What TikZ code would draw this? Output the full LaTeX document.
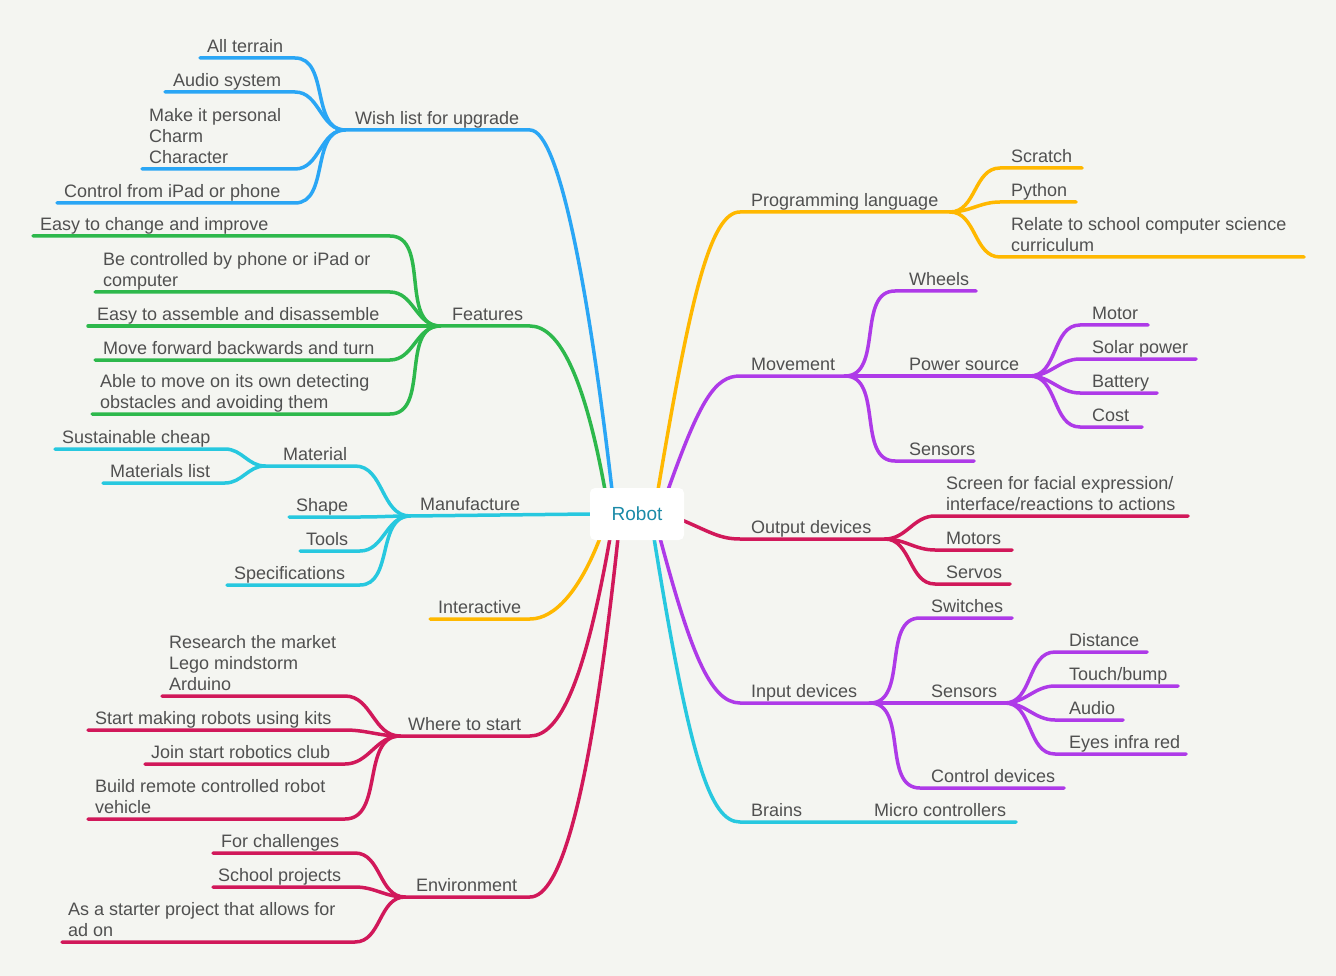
\documentclass[tikz,border=0pt]{standalone}
\usepackage{fontspec}
\setmainfont{Liberation Sans}
\definecolor{bg}{HTML}{F4F5F1}
\definecolor{cOr}{HTML}{FFB800}
\definecolor{cPu}{HTML}{AE3AE8}
\definecolor{cCr}{HTML}{D1185A}
\definecolor{cCy}{HTML}{27C8DF}
\definecolor{cBl}{HTML}{2AA6F5}
\definecolor{cGr}{HTML}{2DB84C}
\definecolor{tx}{HTML}{505050}
\definecolor{teal}{HTML}{1B8BA8}
\begin{document}
\begin{tikzpicture}[x=1pt,y=-1pt,
  t/.style={anchor=south west,inner sep=0pt,text depth=0pt,align=left,text=tx,font=\fontsize{18}{21}\selectfont},
  ln/.style={line width=3.5pt,line cap=round},
  or/.style={ln,draw=cOr}, pu/.style={ln,draw=cPu}, cr/.style={ln,draw=cCr},
  cy/.style={ln,draw=cCy}, bl/.style={ln,draw=cBl}, gr/.style={ln,draw=cGr},
  R/.style={out=0,in=180}, L/.style={out=180,in=0}]
\fill[bg] (0,0) rectangle (1336,976);
\useasboundingbox (0,0) rectangle (1336,976);
% root anchor points
\coordinate (rTL) at (612,490); \coordinate (rTL2) at (605,490);
\coordinate (rTR) at (658,490); \coordinate (rTR2) at (668,490);
\coordinate (rR) at (682,520); \coordinate (rL) at (590,514);
\coordinate (rBL) at (600,538); \coordinate (rBL2) at (610,538); \coordinate (rBL3) at (618,538);
\coordinate (rBR) at (660,538); \coordinate (rBR2) at (654,538);

% ===== Programming language
\coordinate (pl0) at (740,212); \coordinate (pl1) at (950,212);
\draw[or] (rTR) .. controls (690,300) and (710,212) .. (pl0) -- (pl1);
\node[t] (pl) at (751,207) {Programming language};
\draw[or] (pl1) to[R] (1000,168) -- (1082,168);
\node[t] (sc) at (1011,163) {Scratch};
\draw[or] (pl1) to[R] (1000,202) -- (1076,202);
\node[t] (py) at (1011,197) {Python};
\draw[or] (pl1) to[R] (1000,257) -- (1304,257);
\node[t] (rel) at (1011,252) {Relate to school computer science\\curriculum};

% ===== Movement
\coordinate (mv0) at (740,376); \coordinate (mv1) at (845,376);
\draw[pu] (rTR2) .. controls (700,400) and (715,376) .. (mv0) -- (mv1);
\node[t] (mv) at (751,371) {Movement};
\draw[pu] (mv1) to[R] (895,291) -- (976,291);
\node[t] (wh) at (909,286) {Wheels};
\coordinate (ps1) at (1030,376);
\draw[pu] (mv1) -- (895,376) -- (ps1);
\node[t] (ps) at (909,371) {Power source};
\draw[pu] (mv1) to[R] (895,461) -- (974,461);
\node[t] (se) at (909,456) {Sensors};
\draw[pu] (ps1) to[R] (1080,325) -- (1148,325);
\node[t] (mo) at (1092,320) {Motor};
\draw[pu] (ps1) to[R] (1080,359) -- (1196,359);
\node[t] (so) at (1092,354) {Solar power};
\draw[pu] (ps1) to[R] (1080,393) -- (1157,393);
\node[t] (ba) at (1092,388) {Battery};
\draw[pu] (ps1) to[R] (1080,427) -- (1142,427);
\node[t] (co) at (1092,422) {Cost};

% ===== Output devices
\coordinate (od0) at (740,539); \coordinate (od1) at (885,539);
\draw[cr] (rR) .. controls (710,532) and (720,539) .. (od0) -- (od1);
\node[t] (od) at (751,534) {Output devices};
\draw[cr] (od1) to[R] (935,516) -- (1188,516);
\node[t] (scr) at (946,511) {Screen for facial expression/\\interface/reactions to actions};
\draw[cr] (od1) to[R] (935,550) -- (1012,550);
\node[t] (mos) at (946,545) {Motors};
\draw[cr] (od1) to[R] (935,584) -- (1010,584);
\node[t] (sv) at (946,579) {Servos};

% ===== Input devices
\coordinate (id0) at (740,703); \coordinate (id1) at (870,703);
\draw[pu] (rBR) .. controls (690,650) and (710,703) .. (id0) -- (id1);
\node[t] (id) at (751,698) {Input devices};
\draw[pu] (id1) to[R] (920,618) -- (1012,618);
\node[t] (sw) at (931,613) {Switches};
\coordinate (is1) at (1005,703);
\draw[pu] (id1) -- (is1);
\node[t] (is) at (931,698) {Sensors};
\draw[pu] (id1) to[R] (920,788) -- (1064,788);
\node[t] (cd) at (931,783) {Control devices};
\draw[pu] (is1) to[R] (1055,652) -- (1147,652);
\node[t] (di) at (1069,647) {Distance};
\draw[pu] (is1) to[R] (1055,686) -- (1178,686);
\node[t] (tb) at (1069,681) {Touch/bump};
\draw[pu] (is1) to[R] (1055,720) -- (1123,720);
\node[t] (au) at (1069,715) {Audio};
\draw[pu] (is1) to[R] (1055,754) -- (1186,754);
\node[t] (ey) at (1069,749) {Eyes infra red};

% ===== Brains
\coordinate (br0) at (740,822); \coordinate (br1) at (810,822);
\draw[cy] (rBR2) .. controls (690,760) and (710,822) .. (br0) -- (br1) -- (1016,822);
\node[t] (br) at (751,817) {Brains};
\node[t] (mc) at (874,817) {Micro controllers};

% ===== Wish list
\coordinate (wl0) at (530,130); \coordinate (wl1) at (345,130);
\draw[bl] (rTL) .. controls (590,300) and (560,130) .. (wl0) -- (wl1);
\node[t] (wl) at (355,125) {Wish list for upgrade};
\draw[bl] (wl1) to[L] (295,58) -- (200,58);
\node[t] (at) at (207,53) {All terrain};
\draw[bl] (wl1) to[L] (295,92) -- (165,92);
\node[t] (as) at (173,87) {Audio system};
\draw[bl] (wl1) to[L] (295,169) -- (142,169);
\node[t] (mp) at (149,164) {Make it personal\\Charm\\Character};
\draw[bl] (wl1) to[L] (295,203) -- (57,203);
\node[t] (cf) at (64,198) {Control from iPad or phone};

% ===== Features
\coordinate (fe0) at (530,326); \coordinate (fe1) at (440,326);
\draw[gr] (rTL2) .. controls (585,380) and (560,326) .. (fe0) -- (fe1);
\node[t] (fe) at (452,321) {Features};
\draw[gr] (fe1) to[L] (390,236) -- (33,236);
\node[t] (ec) at (40,231) {Easy to change and improve};
\draw[gr] (fe1) to[L] (390,292) -- (95,292);
\node[t] (bc) at (103,287) {Be controlled by phone or iPad or\\computer};
\draw[gr] (fe1) -- (88,326);
\node[t] (ea) at (97,321) {Easy to assemble and disassemble};
\draw[gr] (fe1) to[L] (390,360) -- (95,360);
\node[t] (mf) at (103,355) {Move forward backwards and turn};
\draw[gr] (fe1) to[L] (390,414) -- (92,414);
\node[t] (ab) at (100,409) {Able to move on its own detecting\\obstacles and avoiding them};

% ===== Manufacture
\coordinate (ma1) at (410,516);
\draw[cy] (rL) -- (ma1);
\node[t] (ma) at (420,511) {Manufacture};
\coordinate (mt1) at (265,466);
\draw[cy] (ma1) to[L] (355,466) -- (mt1);
\node[t] (mt) at (283,461) {Material};
\draw[cy] (mt1) to[L] (225,449) -- (55,449);
\node[t] (sch) at (62,444) {Sustainable cheap};
\draw[cy] (mt1) to[L] (225,483) -- (103,483);
\node[t] (ml) at (110,478) {Materials list};
\draw[cy] (ma1) to[L] (360,517) -- (289,517);
\node[t] (sh) at (296,512) {Shape};
\draw[cy] (ma1) to[L] (360,551) -- (300,551);
\node[t] (to) at (306,546) {Tools};
\draw[cy] (ma1) to[L] (360,585) -- (227,585);
\node[t] (sp) at (234,580) {Specifications};

% ===== Interactive
\draw[or] (rBL) .. controls (580,590) and (555,619) .. (530,619) -- (430,619);
\node[t] (in) at (438,614) {Interactive};

% ===== Where to start
\coordinate (ws1) at (400,736);
\draw[cr] (rBL2) .. controls (585,680) and (560,736) .. (530,736) -- (ws1);
\node[t] (ws) at (408,731) {Where to start};
\draw[cr] (ws1) to[L] (345,696) -- (162,696);
\node[t] (rm) at (169,691) {Research the market\\Lego mindstorm\\Arduino};
\draw[cr] (ws1) to[L] (345,730) -- (88,730);
\node[t] (sm) at (95,725) {Start making robots using kits};
\draw[cr] (ws1) to[L] (345,764) -- (145,764);
\node[t] (jo) at (151,759) {Join start robotics club};
\draw[cr] (ws1) to[L] (345,819) -- (88,819);
\node[t] (bu) at (95,814) {Build remote controlled robot\\vehicle};

% ===== Environment
\coordinate (en1) at (405,897);
\draw[cr] (rBL3) .. controls (590,800) and (560,897) .. (530,897) -- (en1);
\node[t] (en) at (416,892) {Environment};
\draw[cr] (en1) to[L] (355,853) -- (213,853);
\node[t] (fc) at (221,848) {For challenges};
\draw[cr] (en1) to[L] (355,887) -- (213,887);
\node[t] (sj) at (218,882) {School projects};
\draw[cr] (en1) to[L] (355,942) -- (62,942);
\node[t] (st) at (68,937) {As a starter project that allows for\\ad on};

% ===== Root
\node[fill=white,rounded corners=5pt,minimum width=94pt,minimum height=52pt,inner sep=0pt,
  text=teal,font=\fontsize{19}{22}\selectfont] (root) at (637,514) {Robot};
\end{tikzpicture}
\end{document}
